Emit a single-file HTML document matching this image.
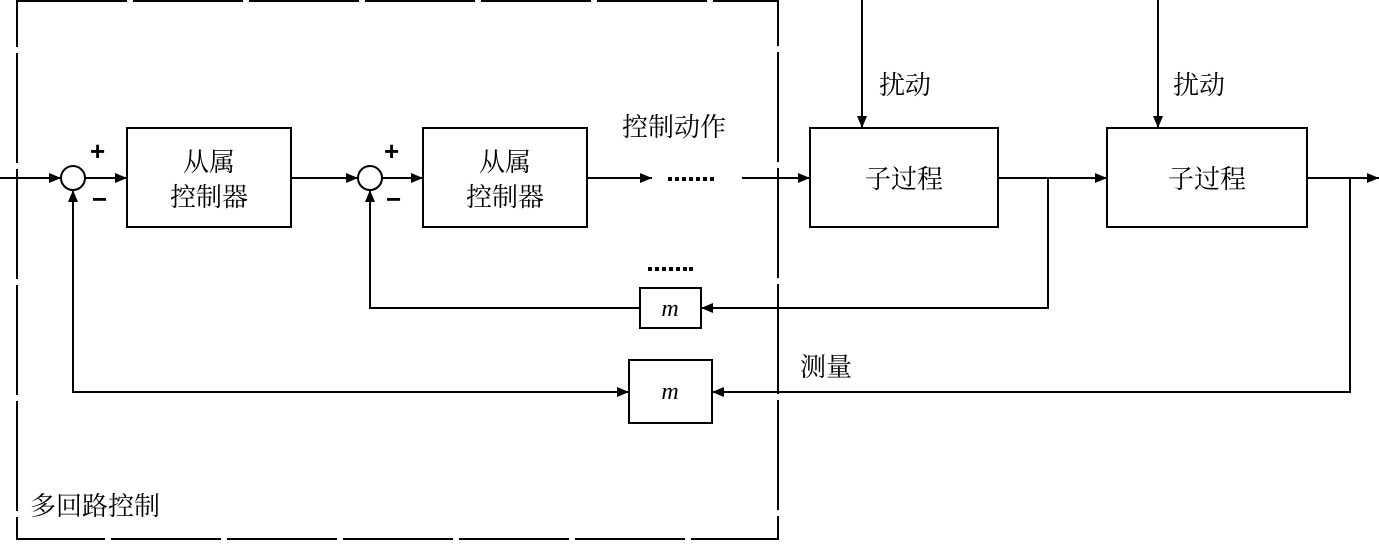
<!DOCTYPE html>
<html><head><meta charset="utf-8"><style>
html,body{margin:0;padding:0;background:#fff}
svg text{font-family:"Liberation Serif","Noto Serif CJK SC","Noto Sans CJK SC",serif;fill:#000}
</style></head><body>
<svg width="1379" height="541" viewBox="0 0 1379 541" xmlns="http://www.w3.org/2000/svg">
<defs>
<marker id="a" markerWidth="12" markerHeight="10" refX="12" refY="5" orient="auto" markerUnits="userSpaceOnUse">
<path d="M0,0 L12,5 L0,10 Z" fill="#000"/></marker>
</defs>
<g stroke="#000" stroke-width="2" fill="none">
<!-- dashed region -->
<path d="M17,1 H778 V539 H17 Z" stroke-dasharray="110,6"/>
<!-- main forward path -->
<line x1="0" y1="178" x2="61" y2="178" marker-end="url(#a)"/>
<circle cx="73" cy="178" r="12"/>
<line x1="85" y1="178" x2="127" y2="178" marker-end="url(#a)"/>
<rect x="127" y="128" width="164" height="99"/>
<line x1="291" y1="178" x2="358" y2="178" marker-end="url(#a)"/>
<circle cx="370" cy="178" r="12"/>
<line x1="382" y1="178" x2="423" y2="178" marker-end="url(#a)"/>
<rect x="423" y="128" width="164" height="99"/>
<line x1="587" y1="178" x2="652" y2="178" marker-end="url(#a)"/>
<line x1="742" y1="178" x2="810" y2="178" marker-end="url(#a)"/>
<rect x="810" y="128" width="188" height="99"/>
<line x1="998" y1="178" x2="1107" y2="178" marker-end="url(#a)"/>
<rect x="1107" y="128" width="200" height="99"/>
<line x1="1307" y1="178" x2="1379" y2="178" marker-end="url(#a)"/>
<!-- disturbances -->
<line x1="862" y1="0" x2="862" y2="128" marker-end="url(#a)"/>
<line x1="1158" y1="0" x2="1158" y2="128" marker-end="url(#a)"/>
<!-- inner feedback -->
<polyline points="1048,178 1048,308 701,308" marker-end="url(#a)"/>
<rect x="640" y="288" width="61" height="40"/>
<polyline points="640,308 370,308 370,190" marker-end="url(#a)"/>
<!-- outer feedback -->
<polyline points="1350,178 1350,392 712,392" marker-end="url(#a)"/>
<rect x="629" y="360" width="83" height="63"/>
<polyline points="73,190 73,392 629,392" />
<line x1="73" y1="220" x2="73" y2="190" marker-end="url(#a)"/>
<line x1="600" y1="392" x2="629" y2="392" marker-end="url(#a)"/>
</g>
<g font-size="26">
<text x="209" y="171" text-anchor="middle">从属</text>
<text x="209" y="206" text-anchor="middle">控制器</text>
<text x="505" y="171" text-anchor="middle">从属</text>
<text x="505" y="206" text-anchor="middle">控制器</text>
<text x="904" y="188" text-anchor="middle">子过程</text>
<text x="1207" y="188" text-anchor="middle">子过程</text>
<text x="622" y="136">控制动作</text>
<text x="879" y="94">扰动</text>
<text x="1173" y="94">扰动</text>
<text x="800" y="376">测量</text>
<text x="30" y="515">多回路控制</text>
</g>
<g font-size="26" font-family="Liberation Sans,sans-serif" font-weight="bold">
<text x="90" y="160" style="font-family:'Liberation Sans',sans-serif">+</text>
<text x="92" y="208" style="font-family:'Liberation Sans',sans-serif">−</text>
<text x="384" y="160" style="font-family:'Liberation Sans',sans-serif">+</text>
<text x="386" y="208" style="font-family:'Liberation Sans',sans-serif">−</text>
</g>
<g font-size="24" font-style="italic">
<text x="670" y="316" text-anchor="middle">m</text>
<text x="670" y="399" text-anchor="middle">m</text>
</g>
<g fill="#000">
<g id="d1">
<rect x="668" y="177" width="4" height="4"/><rect x="675" y="177" width="4" height="4"/><rect x="682" y="177" width="4" height="4"/><rect x="689" y="177" width="4" height="4"/><rect x="696" y="177" width="4" height="4"/><rect x="703" y="177" width="4" height="4"/><rect x="710" y="177" width="4" height="4"/>
</g>
<rect x="648" y="267" width="4" height="4"/><rect x="655" y="267" width="4" height="4"/><rect x="662" y="267" width="4" height="4"/><rect x="669" y="267" width="4" height="4"/><rect x="676" y="267" width="4" height="4"/><rect x="683" y="267" width="4" height="4"/><rect x="689" y="267" width="4" height="4"/>
</g>
</svg>
</body></html>
